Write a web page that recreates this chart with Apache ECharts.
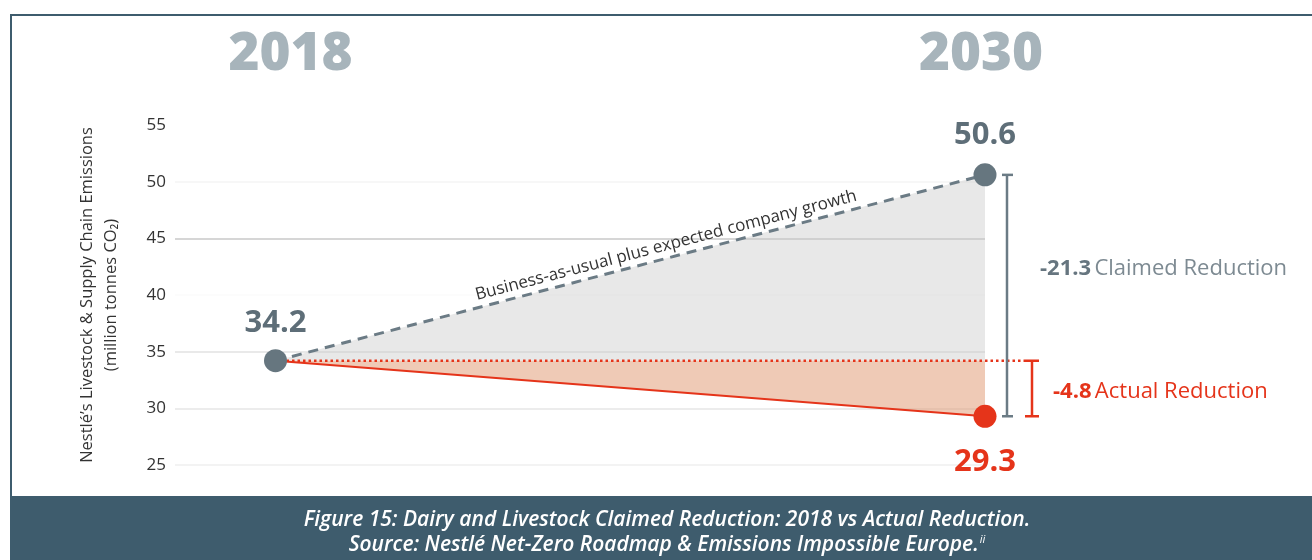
<!DOCTYPE html>
<html>
<head>
<meta charset="utf-8">
<script src="https://cdn.jsdelivr.net/npm/echarts@6/dist/echarts.min.js"></script>
<style>
  html, body { margin: 0; padding: 0; background: #fff; }
  #chart { width: 1312px; height: 560px; }
</style>
</head>
<body>
<div id="chart"></div>
<script>
// data
var years = [2018, 2030];
var businessAsUsual = [34.2, 50.6];
var actual = [34.2, 29.3];
var baseline = 34.2;
var reductionValues = ["-21.3", "-4.8"];
var reductionNames = ["Claimed Reduction", "Actual Reduction"];
var yMin = 25, yMax = 55, yStep = 5;
var bauLabel = "Business-as-usual plus expected company growth";
var axisName = "Nestlé’s Livestock & Supply Chain Emissions\n(million tonnes CO₂)";
var captionLines = [
  "Figure 15: Dairy and Livestock Claimed Reduction: 2018 vs Actual Reduction.",
  "Source: Nestlé Net-Zero Roadmap & Emissions Impossible Europe."
];
var captionNote = "ii";

var GRAY = "#66767f";
var RED = "#e5341a";
var BAND = "#3e5c6d";

function pairs(vals) {
  return years.map(function (y, i) { return [y, vals[i]]; });
}

var chart = echarts.init(document.getElementById("chart"));

var captionFont = { fontSize: 21, fontStyle: "italic", fontWeight: 600, fill: "#fff", fontFamily: "Open Sans" };

var option = {
  animation: false,
  textStyle: { fontFamily: "Open Sans" },
  grid: { left: 175, right: 327, top: 125, bottom: 95 },
  xAxis: {
    type: "value", min: 2016.3, max: 2030,
    show: false, splitLine: { show: false }
  },
  yAxis: {
    type: "value", min: yMin, max: yMax, interval: yStep,
    name: axisName,
    nameLocation: "middle",
    nameRotate: 90,
    nameGap: 52,
    nameTextStyle: { fontSize: 16.5, color: "#333", lineHeight: 24, fontFamily: "Open Sans" },
    axisLine: { show: false },
    axisTick: { show: false },
    axisLabel: { fontSize: 17, color: "#333", margin: 9 },
    splitLine: {
      lineStyle: {
        width: 1.5,
        // 25, 30, 35, 40, 45, 50, 55
        color: ["#efefef", "#e6e6e6", "#e2e2e2", "#fbfbfb", "#c9c9c9", "#f4f4f4", "rgba(0,0,0,0)"]
      }
    }
  },
  series: [
    {
      type: "line",
      name: "bau",
      data: pairs(businessAsUsual),
      symbol: "none",
      z: 2,
      lineStyle: { color: "#6b7b85", width: 3, type: [10, 7] },
      areaStyle: { origin: baseline, color: "rgba(200,200,200,0.42)", opacity: 1 }
    },
    {
      type: "line",
      name: "actual",
      data: pairs(actual),
      symbol: "none",
      z: 3,
      lineStyle: { color: RED, width: 2 },
      areaStyle: { origin: baseline, color: "rgba(223,149,109,0.5)", opacity: 1 }
    },
    {
      type: "custom",
      name: "annotations",
      z: 4,
      clip: false,
      data: [[years[1], businessAsUsual[1], actual[1], baseline]],
      renderItem: function (params, api) {
        var top = api.coord([api.value(0), api.value(1)]);
        var bot = api.coord([api.value(0), api.value(2)]);
        var mid = api.coord([api.value(0), api.value(3)]);
        var start = api.coord([years[0], baseline]);
        var bauStart = api.coord([years[0], businessAsUsual[0]]);
        var gx = top[0] + 22;
        var rx = top[0] + 47;
        var ang = Math.atan2(bauStart[1] - top[1], top[0] - bauStart[0]);
        var f = 0.555;
        var lx = bauStart[0] + (top[0] - bauStart[0]) * f;
        var ly = bauStart[1] + (top[1] - bauStart[1]) * f;
        var off = 4;
        lx -= Math.sin(ang) * off;
        ly -= Math.cos(ang) * off;
        var lineStyle = function (c) { return { stroke: c, lineWidth: 2.5 }; };
        return {
          type: "group",
          children: [
            { type: "line", shape: { x1: start[0], y1: start[1], x2: mid[0] + 40, y2: mid[1] },
              style: { stroke: RED, lineWidth: 2.5, lineDash: [2.5, 3] } },
            { type: "line", shape: { x1: gx, y1: top[1], x2: gx, y2: bot[1] }, style: lineStyle("#6b7b85") },
            { type: "line", shape: { x1: gx - 5, y1: top[1], x2: gx + 6, y2: top[1] }, style: lineStyle("#6b7b85") },
            { type: "line", shape: { x1: gx - 5, y1: bot[1], x2: gx + 6, y2: bot[1] }, style: lineStyle("#6b7b85") },
            { type: "line", shape: { x1: rx, y1: mid[1], x2: rx, y2: bot[1] }, style: lineStyle(RED) },
            { type: "line", shape: { x1: rx - 7, y1: mid[1], x2: rx + 7, y2: mid[1] }, style: lineStyle(RED) },
            { type: "line", shape: { x1: rx - 7, y1: bot[1], x2: rx + 7, y2: bot[1] }, style: lineStyle(RED) },
            { type: "text", x: gx + 33, y: (top[1] + bot[1]) / 2 - 27,
              style: {
                text: "{b|" + reductionValues[0] + "} {n|" + reductionNames[0] + "}",
                verticalAlign: "middle",
                rich: {
                  b: { fontSize: 22, fontWeight: 700, fill: "#66757f", fontFamily: "Open Sans" },
                  n: { fontSize: 22, fill: "#7d8a92", fontFamily: "Open Sans" }
                }
              } },
            { type: "text", x: rx + 21, y: (mid[1] + bot[1]) / 2 + 3,
              style: {
                text: "{b|" + reductionValues[1] + "} {n|" + reductionNames[1] + "}",
                verticalAlign: "middle",
                rich: {
                  b: { fontSize: 22, fontWeight: 700, fill: RED, fontFamily: "Open Sans" },
                  n: { fontSize: 22, fill: RED, fontFamily: "Open Sans" }
                }
              } },
            { type: "text", x: lx, y: ly, rotation: ang,
              style: { text: bauLabel, align: "center", verticalAlign: "bottom",
                fontSize: 17, fill: "#333", fontFamily: "Open Sans" } }
          ]
        };
      }
    },
    {
      type: "scatter",
      name: "points",
      z: 5,
      symbolSize: 23,
      itemStyle: { opacity: 1 },
      data: [
        { value: [years[0], businessAsUsual[0]], itemStyle: { color: GRAY },
          label: { position: "top", distance: 11, color: "#5e6e78" } },
        { value: [years[1], businessAsUsual[1]], itemStyle: { color: GRAY },
          label: { position: "top", distance: 13, color: "#5e6e78" } },
        { value: [years[1], actual[1]], itemStyle: { color: RED },
          label: { position: "bottom", distance: 19, color: RED } }
      ],
      label: {
        show: true, fontSize: 31, fontWeight: 700, fontFamily: "Open Sans",
        formatter: function (p) { return p.value[1].toFixed(1); }
      }
    }
  ],
  graphic: [
    { type: "rect", z: -1, shape: { x: 11, y: 15, width: 1320, height: 500 },
      style: { fill: "none", stroke: BAND, lineWidth: 2 } },
    { type: "rect", z: 10, shape: { x: 10, y: 496, width: 1302, height: 64 }, style: { fill: BAND } },
    { type: "text", z: 11, x: 667, y: 520,
      style: Object.assign({ text: captionLines[0], align: "center", verticalAlign: "middle" }, captionFont) },
    { type: "text", z: 11, x: 667, y: 545,
      style: Object.assign({
        text: "{m|" + captionLines[1] + "}{s|" + captionNote + "}",
        align: "center", verticalAlign: "middle",
        rich: {
          m: Object.assign({}, captionFont),
          s: { fontSize: 11, fontStyle: "italic", fill: "#fff", fontFamily: "Open Sans", verticalAlign: "top", padding: [0, 0, 10, 1] }
        }
      }, captionFont) }
  ]
};

chart.setOption(option);

// year headers above each column, placed through the x scale
var headers = years.map(function (y) {
  var px = chart.convertToPixel({ xAxisIndex: 0 }, y);
  return {
    type: "text", x: px + (y === years[0] ? 15 : -4), y: 55,
    style: { text: String(y), align: "center", verticalAlign: "middle",
      fontSize: 53, fontWeight: 800, fill: "#a7b4bb", fontFamily: "Open Sans" }
  };
});
chart.setOption({ graphic: option.graphic.concat(headers) });
</script>
</body>
</html>
